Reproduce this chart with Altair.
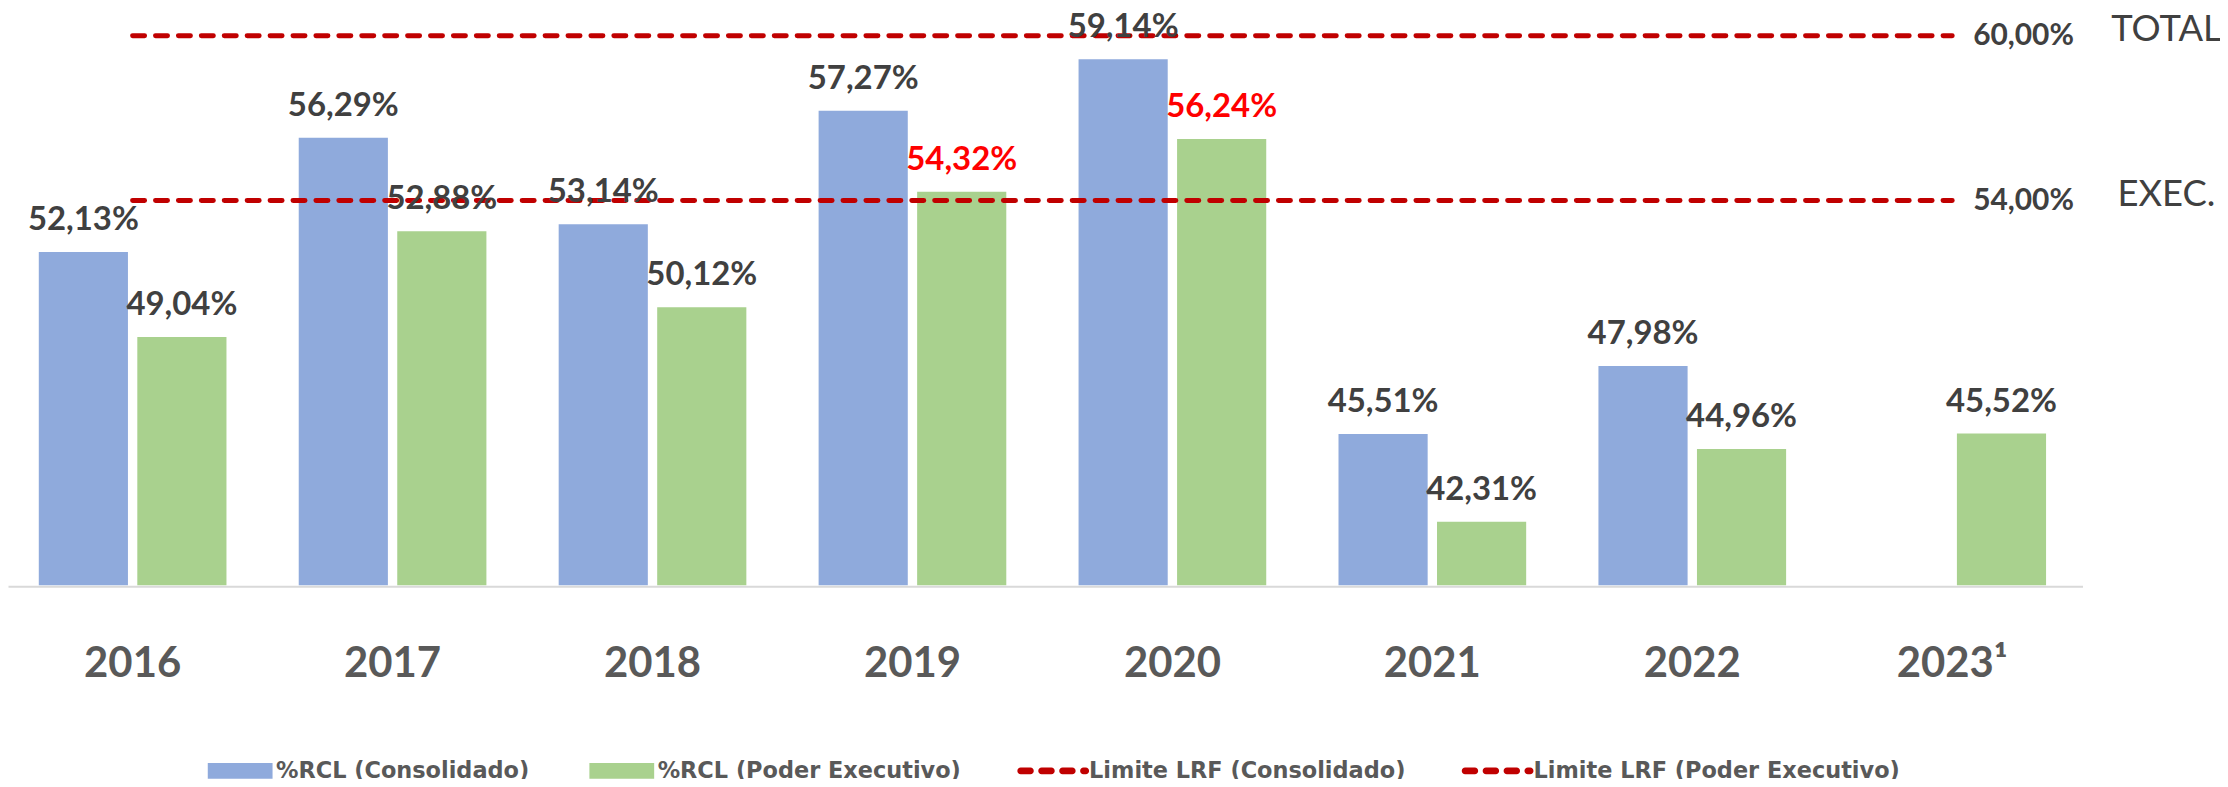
import altair as alt
import pandas as pd

# ---- data ----
years = ["2016", "2017", "2018", "2019", "2020", "2021", "2022", "2023¹"]
rcl_consolidado = [52.13, 56.29, 53.14, 57.27, 59.14, 45.51, 47.98, None]
rcl_executivo = [49.04, 52.88, 50.12, 54.32, 56.24, 42.31, 44.96, 45.52]
series = [
    "%RCL (Consolidado)",
    "%RCL (Poder Executivo)",
    "Limite LRF (Consolidado)",
    "Limite LRF (Poder Executivo)",
]
limit_values = [60.0, 54.0]
limit_tags = ["TOTAL", "EXEC."]

rows = []
for ano, c, e in zip(years, rcl_consolidado, rcl_executivo):
    if c is not None:
        rows.append({"ano": ano, "serie": series[0], "valor": c})
    if e is not None:
        rows.append({"ano": ano, "serie": series[1], "valor": e})
bars_df = pd.DataFrame(rows)

line_rows = []
for s, v in zip(series[2:], limit_values):
    for ano in (years[0], years[-1]):
        line_rows.append({"ano": ano, "serie": s, "valor": v})
lines_df = pd.DataFrame(line_rows)

limits_df = pd.DataFrame({
    "serie": series[2:],
    "valor": limit_values,
    "tag": limit_tags,
    "ano": [years[-1]] * 2,
})
legend_df = pd.DataFrame({"serie": series})

# ---- styling ----
BLUE, GREEN, DARKRED = "#8FAADC", "#A9D18E", "#C00000"
TXT = "#404040"
FONT = "Lato"

color_scale = alt.Scale(domain=series, range=[BLUE, GREEN, DARKRED, DARKRED])

h = 0.093
def capsule(a, b):
    return (f"M{a+h:.3f},{-h}L{b-h:.3f},{-h}A{h},{h} 0 0 1 {b-h:.3f},{h}"
            f"L{a+h:.3f},{h}A{h},{h} 0 0 1 {a+h:.3f},{-h}Z")
dash_path = "".join(capsule(a, b) for a, b in [(-1, -0.542), (-0.417, 0.042), (0.167, 0.625), (0.75, 1.0)])
rect_path = "M-0.903,-0.222L0.903,-0.222L0.903,0.222L-0.903,0.222Z"
shape_scale = alt.Scale(domain=series, range=[rect_path, rect_path, dash_path, dash_path])

leg = alt.Legend(
    title=None, orient="none", legendX=197, legendY=728,
    direction="horizontal", columns=4, symbolSize=5184,
    symbolStrokeWidth=0, symbolOpacity=1, padding=0,
    labelFont="DejaVu Sans", labelFontSize=22.5, labelFontWeight="bold",
    labelColor="#595959", labelOffset=0, columnPadding=56, labelLimit=1000,
)

x_scale = alt.Scale(domain=years, paddingInner=0.278, paddingOuter=0.1293, align=0.458, round=False)
x_axis = alt.Axis(
    title=None, labelAngle=0, ticks=False, tickSize=0, grid=False,
    domainColor="#D9D9D9", domainWidth=2, offset=1,
    labelFont=FONT, labelFontSize=42, labelFontWeight="bold",
    labelColor="#595959", labelPadding=91, labelBaseline="alphabetic",
)
X = alt.X("ano:N", scale=x_scale, axis=x_axis)
Y = alt.Y("valor:Q", scale=alt.Scale(domain=[40, 60.957], zero=False, nice=False, clamp=True), axis=None)
xoff = alt.XOffset("serie:N", scale=alt.Scale(domain=series[:2], paddingInner=0.095, paddingOuter=0, round=False))

base = alt.Chart(bars_df).encode(x=X, xOffset=xoff, y=Y)

bars = base.mark_bar().encode(color=alt.Color("serie:N", scale=color_scale, legend=leg))

labels = base.transform_calculate(
    rotulo="replace(format(datum.valor, '.2f'), '.', ',') + '%'"
).mark_text(
    font=FONT, fontSize=33, fontWeight="bold", baseline="alphabetic", align="center", dy=-22
).encode(
    text="rotulo:N",
    color=alt.condition(
        "datum.serie == '%RCL (Poder Executivo)' && datum.valor > 54",
        alt.value("#FF0000"), alt.value(TXT)),
)

lines = alt.Chart(lines_df).mark_line(
    color=DARKRED, strokeWidth=5, strokeDash=[12, 11], strokeCap="round"
).encode(x=X, y=Y, detail="serie:N")

limit_labels = alt.Chart(limits_df).transform_calculate(
    pct="replace(format(datum.valor, '.2f'), '.', ',') + '%'"
).mark_text(
    font=FONT, fontSize=30, fontWeight="bold", align="left", baseline="middle", dx=21, color=TXT
).encode(x=X, y=Y, text="pct:N")

tags = alt.Chart(limits_df).mark_text(
    font=FONT, fontSize=36.5, align="center", baseline="middle", dx=215, dy=-6, color=TXT
).encode(x=X, y=Y, text="tag:N")

legend_pts = alt.Chart(legend_df).mark_point(filled=True, opacity=0).encode(
    color=alt.Color("serie:N", scale=color_scale, legend=leg),
    shape=alt.Shape("serie:N", scale=shape_scale, legend=leg),
)

chart = alt.layer(bars, lines, labels, limit_labels, tags, legend_pts).properties(
    width=2082, height=578,
    autosize=alt.AutoSizeParams(type="none"),
    padding={"left": 0, "top": 0, "right": 138, "bottom": 193},
).configure_view(stroke=None)

chart.save("out.html", embed_options={"renderer": "svg", "actions": False})
